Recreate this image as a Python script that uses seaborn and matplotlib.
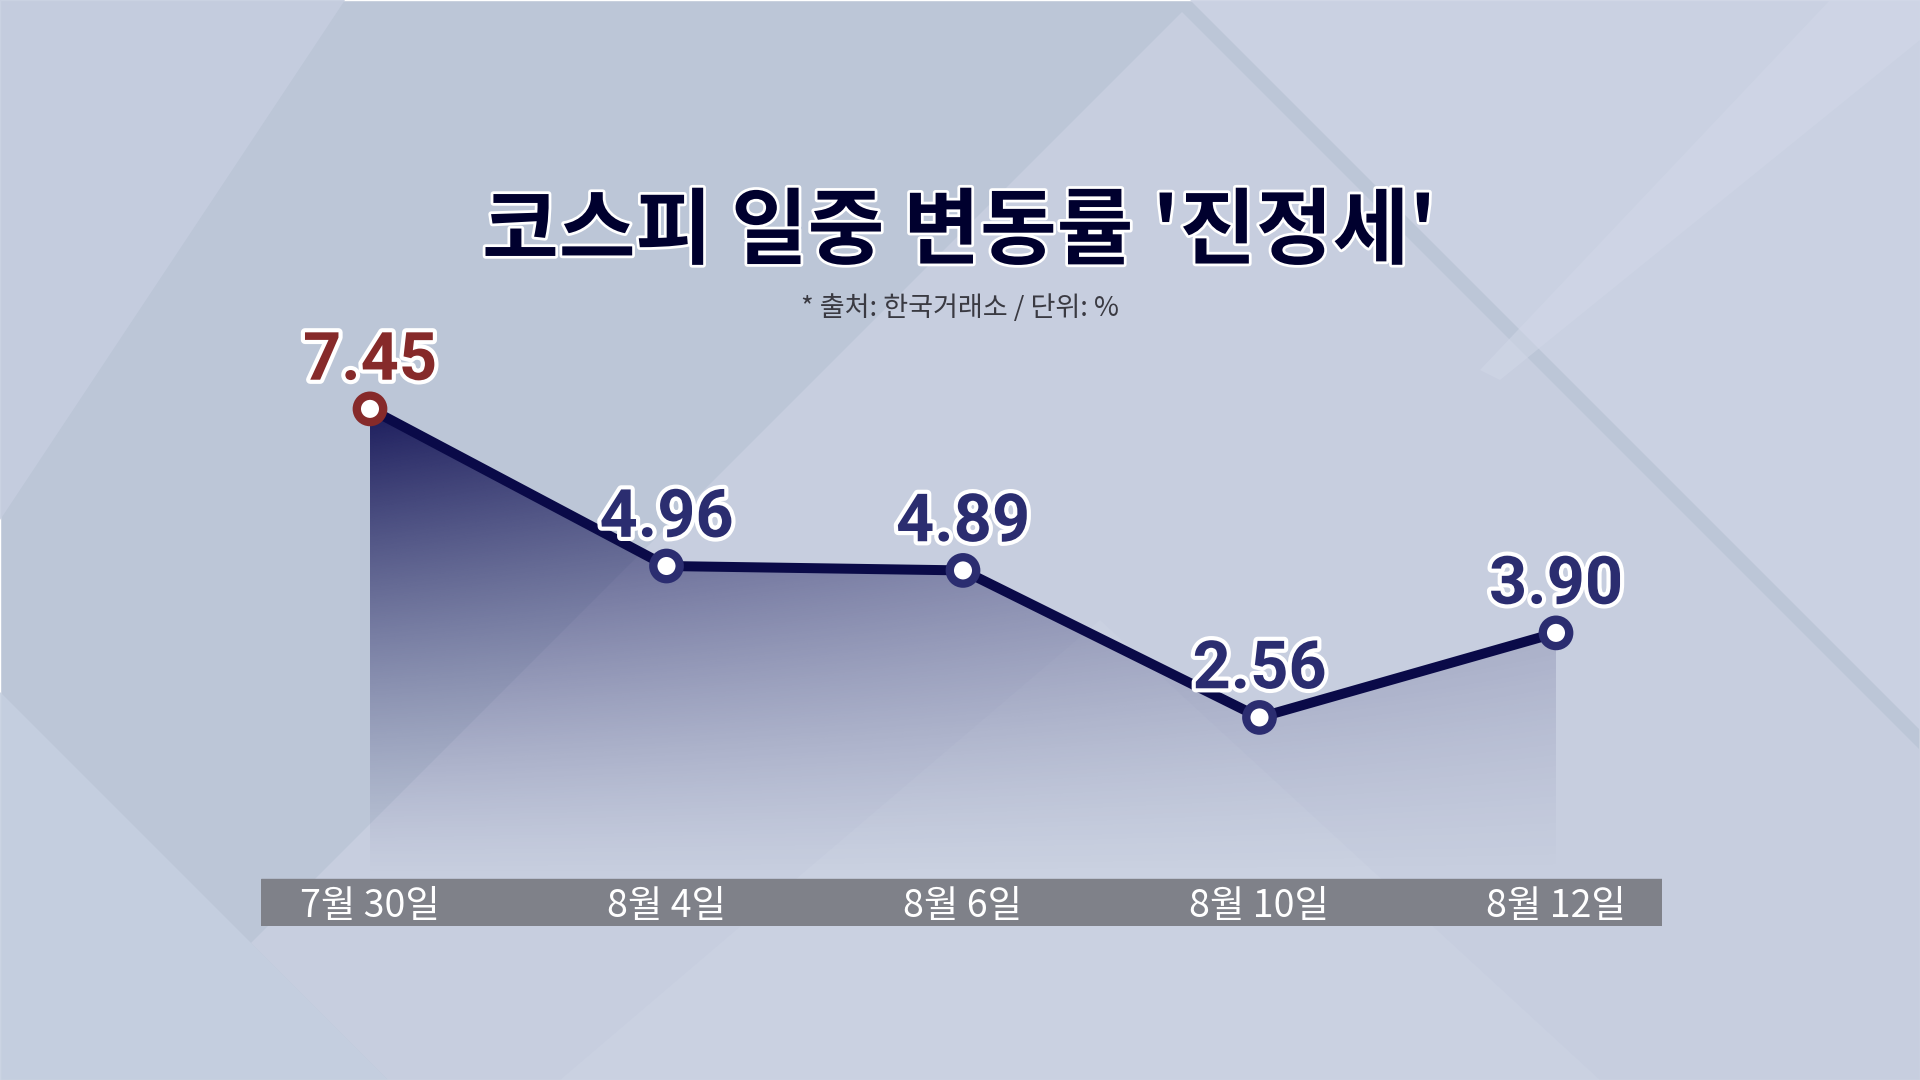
import numpy as np
import pandas as pd
import matplotlib
matplotlib.use('Agg')
import matplotlib.pyplot as plt
import matplotlib.patheffects as pe
from matplotlib.patches import Polygon
from matplotlib.colors import to_rgb
import seaborn as sns

# data
dates = ['7월 30일', '8월 4일', '8월 6일', '8월 10일', '8월 12일']
rates = [7.45, 4.96, 4.89, 2.56, 3.90]
point_colors = ['#862a2a', '#2b2d70', '#2b2d70', '#2b2d70', '#2b2d70']

title = "코스피 일중 변동률 '진정세'"
subtitle = '* 출처: 한국거래소 / 단위: %'

df = pd.DataFrame({'pos': range(len(dates)), 'date': dates, 'rate': rates})

sns.set_theme(style='white')
plt.rcParams['font.family'] = ['Noto Sans CJK KR', 'DejaVu Sans']

fig = plt.figure(figsize=(19.2, 10.8), dpi=100)

# background with diagonal panels (pixel coords)
bg = fig.add_axes([0, 0, 1, 1], zorder=0)
bg.set_xlim(0, 1920)
bg.set_ylim(1080, 0)
bg.axis('off')
bg.add_patch(Polygon([(0, 0), (1920, 0), (1920, 1080), (0, 1080)], facecolor='#bcc6d7'))
shapes = [
    ([(0, 0), (345, 0), (0, 520)], '#c5cddf', 0.9),
    ([(1182, 12), (1920, 750), (1920, 1080), (388, 1080), (251, 943)], '#c9d0e1', 0.9),
    ([(1190, 0), (1920, 0), (1920, 730)], '#ccd3e4', 0.9),
    ([(0, 692), (251, 943), (388, 1080), (0, 1080)], '#c6d0e0', 0.9),
    ([(1830, 0), (1920, 0), (1920, 40), (1500, 380), (1480, 370)], '#d2d8e8', 0.5),
    ([(560, 1080), (1100, 620), (1600, 1080)], '#cdd4e4', 0.5),
]
for pts, c, a in shapes:
    bg.add_patch(Polygon(pts, closed=True, facecolor=c, edgecolor='none', alpha=a))

# main chart axes: x-axis bar spans the axes width
ax = fig.add_axes([261 / 1920, 1 - 926 / 1080, 1401 / 1920, 826 / 1080], zorder=1)
ax.patch.set_alpha(0)

navy = '#0a0a48'
n = len(rates)
ymax = max(rates)

# gradient area under the line
gx = np.linspace(0, n - 1, 300)
gy = np.linspace(0, ymax, 300)
X, Y = np.meshgrid(gx, gy)
rgba = np.zeros((300, 300, 4))
rgba[..., :3] = to_rgb('#121255')
rgba[..., 3] = 0.95 * (Y / ymax) ** 1.3 * (1 - 0.6 * X / (n - 1))
im = ax.imshow(rgba, extent=(0, n - 1, 0, ymax), origin='lower', aspect='auto', zorder=2)
area = ax.fill_between(df['pos'], df['rate'], 0, color='none')
im.set_clip_path(area.get_paths()[0], transform=ax.transData)

# grey category bar
bar_bottom = -0.745
ax.axhspan(bar_bottom, 0, color='#7f8189', zorder=1)
for i, d in enumerate(dates):
    ax.text(i, bar_bottom / 2 - 0.06, d, ha='center', va='center', color='white',
            fontsize=27, fontweight='medium')

sns.lineplot(data=df, x='pos', y='rate', color=navy, linewidth=7.2, ax=ax, zorder=3)
ax.scatter(df['pos'], df['rate'], s=361, facecolor='white', edgecolors=point_colors,
           linewidths=6, zorder=4)

for i, (v, c) in enumerate(zip(rates, point_colors)):
    ax.annotate(f'{v:.2f}', (i, v), xytext=(0, 21), textcoords='offset points',
                ha='center', va='baseline', fontsize=48, fontweight='bold',
                family=['Roboto', 'DejaVu Sans'], color=c, zorder=5,
                path_effects=[pe.withStroke(linewidth=6, foreground='white')])

ax.set_xlim(-0.3676, 4.3575)
ax.set_ylim(bar_bottom, 12.345)
ax.set_axis_off()

fig.text(0.4995, 0.7843, title, ha='center', va='center', fontsize=60,
         fontweight='black', color='#00002e',
         path_effects=[pe.withStroke(linewidth=4, foreground='white')])
fig.text(0.5, 0.7148, subtitle, ha='center', va='center', fontsize=19.5, color='#3a3a42')

fig.savefig('out.png', dpi=100)
